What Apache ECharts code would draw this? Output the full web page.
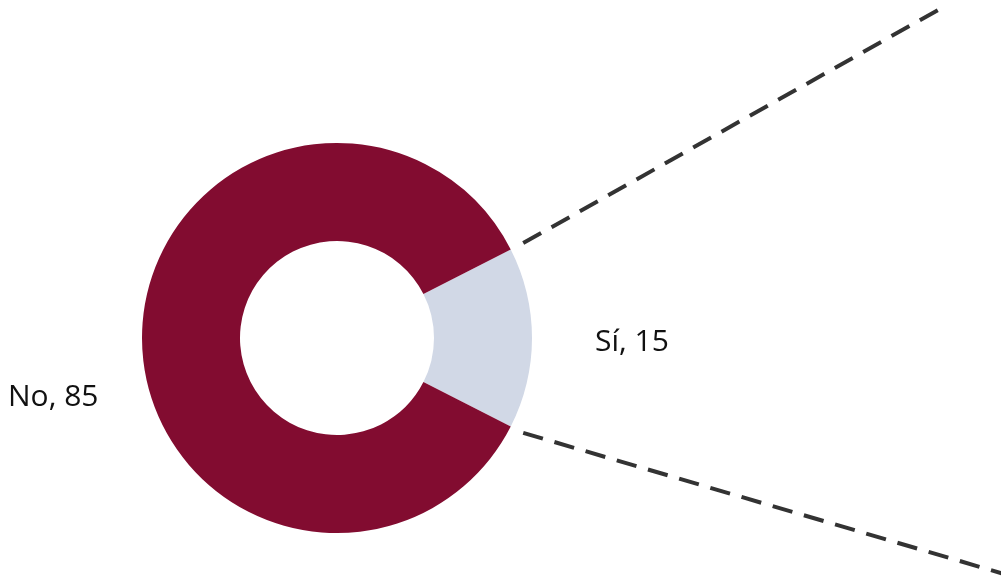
<!DOCTYPE html>
<html>
<head>
<meta charset="utf-8">
<title>Sí / No</title>
<script src="https://cdn.jsdelivr.net/npm/echarts@6/dist/echarts.min.js"></script>
<style>
  html, body { margin: 0; padding: 0; background: #ffffff; }
  #chart { width: 1001px; height: 577px; }
</style>
</head>
<body>
<div id="chart"></div>
<script>
// Answers and their counts
const categories = ['Sí', 'No'];
const values = [15, 85];
const sliceColors = ['#D1D8E6', '#820C30'];

const chart = echarts.init(document.getElementById('chart'), null, { renderer: 'canvas' });

// Donut geometry
const cx = 337, cy = 338;
const rInner = 97, rOuter = 195;
const total = values.reduce((a, b) => a + b, 0);
const halfSpan = values[0] / total * 180;   // half of the "Sí" slice angle, in degrees

// Connector lines leave from the edges of the "Sí" slice
function polar(r, deg) {
  const a = deg * Math.PI / 180;
  return [cx + r * Math.cos(a), cy - r * Math.sin(a)];
}
const upStart = polar(rOuter + 14, halfSpan);
const lowStart = polar(rOuter + 14, -halfSpan);
const upEnd = [938, 10];
const lowEnd = [1004, 574];

const dashStyle = { stroke: '#333333', lineWidth: 4, lineDash: [20.5, 12] };

chart.setOption({
  animation: false,
  backgroundColor: '#ffffff',
  graphic: [
    { type: 'line', shape: { x1: upStart[0], y1: upStart[1], x2: upEnd[0], y2: upEnd[1] }, style: dashStyle, silent: true },
    { type: 'line', shape: { x1: lowStart[0], y1: lowStart[1], x2: lowEnd[0], y2: lowEnd[1] }, style: dashStyle, silent: true }
  ],
  series: [{
    type: 'pie',
    center: [cx, cy],
    radius: [rInner, rOuter],
    startAngle: halfSpan,
    clockwise: true,
    data: categories.map((c, i) => ({ name: c, value: values[i], itemStyle: { color: sliceColors[i] } })),
    itemStyle: { borderWidth: 0 },
    label: {
      show: true,
      position: 'outside',
      formatter: '{b}, {c}',
      color: '#111111',
      fontFamily: '"Open Sans", Lato, sans-serif',
      fontSize: 30,
      overflow: 'none',
      width: 200
    },
    labelLine: { show: false },
    labelLayout: function (params) {
      if (params.dataIndex === 0) {
        return { x: 595, y: 342, align: 'left', verticalAlign: 'middle' };
      }
      return { x: 8, y: 397, align: 'left', verticalAlign: 'middle' };
    }
  }]
});
</script>
</body>
</html>
